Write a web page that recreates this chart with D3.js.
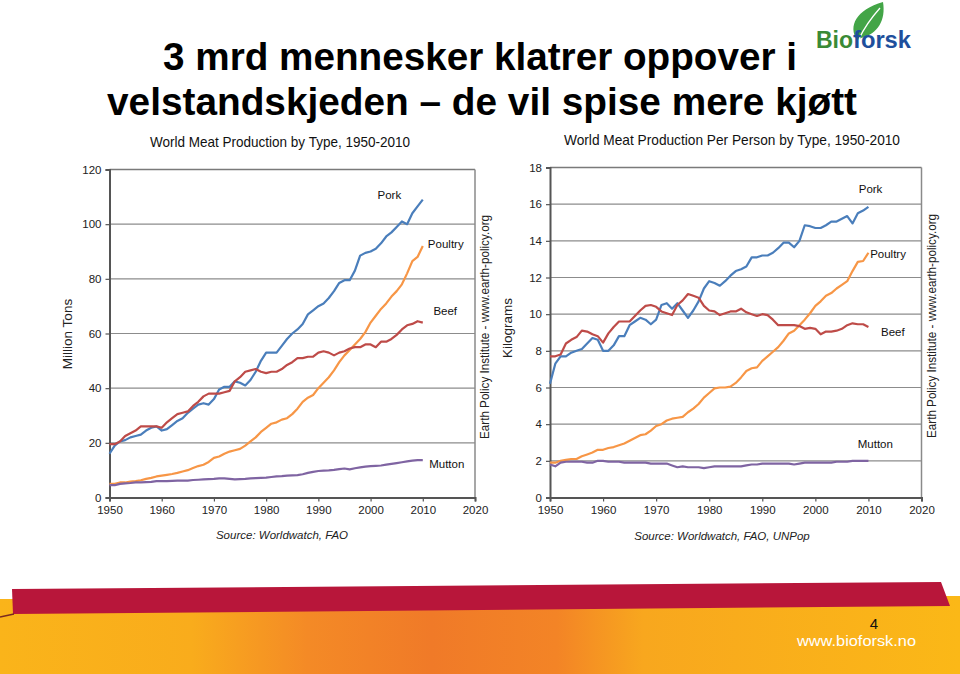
<!DOCTYPE html>
<html><head><meta charset="utf-8">
<script src="https://cdn.jsdelivr.net/npm/d3@7"></script>
<style>
html,body{margin:0;padding:0;background:#fff;}
svg{display:block;}
text{font-family:"Liberation Sans",Arial,sans-serif;}
</style></head>
<body>
<svg id="slide" width="960" height="674"></svg>
<script>
// ---------- DATA ----------
const years = d3.range(1950, 2011);
const seriesNames = ["Pork","Poultry","Beef","Mutton"];

// Left chart: world meat production, million tons
const porkTons = [16,19,20.5,21,22,22.5,23,24.5,25.5,26,24.5,25,26.5,28,29,31,32.5,34,34.5,34,36,39.5,40.5,40.5,42.5,42,41,43,46,50,53,53,53,55.5,58,60,61.5,63.5,67,68.5,70,71,73,75.5,78.5,79.5,79.5,83,88.5,89.5,90,91,93,95.5,97,99,101,100,104,106.5,109];
const poultryTons = [5,5,5.5,5.5,5.8,6,6.3,6.8,7.2,7.7,8,8.3,8.6,9,9.5,10,10.8,11.5,12,13,14.5,15,16,16.8,17.3,17.8,19,20.5,22,24,25.5,27,27.5,28.5,29,30.5,32.5,35,36.5,37.5,40,42,44,46.5,49.5,52,54,56,58,60.5,64,66.5,69,71,73.5,75.5,78,82,86.5,88,92];
const beefTons = [19.5,19.5,20.5,22.5,23.5,24.5,26,26,26,26,25.5,27.5,29,30.5,31,31.5,33.5,35,37,38,38,38,38.5,39,42.5,44,46,46.5,47,46,45.5,46,46,47,48.5,49.5,51,51,51.5,51.5,53,53.5,53,52,53,53.5,54.5,55,55,56,56,55,57,57,58,59.5,61.5,63,63.5,64.5,64];
const muttonTons = [4.5,4.5,5,5.2,5.3,5.5,5.5,5.6,5.7,6,6,6,6.1,6.2,6.2,6.2,6.4,6.5,6.6,6.7,6.8,7,7,6.8,6.6,6.7,6.8,7,7.1,7.2,7.3,7.5,7.7,7.8,8,8.1,8.2,8.5,9,9.4,9.7,9.8,9.9,10.1,10.4,10.6,10.3,10.7,11,11.3,11.5,11.6,11.7,12,12.3,12.6,12.9,13.2,13.5,13.7,13.7];

// Right chart: production per person, kilograms
const porkKg = [6.2,7.3,7.7,7.7,7.9,8.0,8.1,8.4,8.7,8.6,8.0,8.0,8.3,8.8,8.8,9.4,9.6,9.8,9.7,9.45,9.7,10.5,10.6,10.3,10.6,10.2,9.8,10.2,10.7,11.4,11.8,11.7,11.55,11.8,12.1,12.35,12.45,12.6,13.1,13.1,13.2,13.2,13.35,13.6,13.9,13.9,13.65,14.0,14.85,14.8,14.7,14.7,14.85,15.05,15.05,15.2,15.35,14.95,15.5,15.65,15.85];
const poultryKg = [1.9,1.9,2.0,2.05,2.1,2.1,2.25,2.35,2.45,2.6,2.6,2.7,2.75,2.85,2.95,3.1,3.25,3.4,3.45,3.65,3.9,4.0,4.2,4.3,4.35,4.4,4.65,4.85,5.1,5.45,5.7,5.95,6.0,6.0,6.05,6.25,6.55,6.9,7.05,7.1,7.45,7.7,7.95,8.2,8.55,8.95,9.1,9.4,9.7,10.05,10.45,10.7,11.0,11.15,11.4,11.6,11.8,12.35,12.85,12.9,13.35];
const beefKg = [7.7,7.7,7.8,8.4,8.6,8.75,9.1,9.05,8.9,8.8,8.45,8.95,9.3,9.6,9.6,9.6,9.9,10.2,10.45,10.5,10.4,10.15,10.05,9.95,10.5,10.75,11.1,11.0,10.9,10.45,10.2,10.15,9.95,10.05,10.15,10.15,10.3,10.1,10.0,9.9,10.0,9.95,9.7,9.4,9.4,9.4,9.4,9.35,9.2,9.25,9.2,8.9,9.05,9.05,9.1,9.2,9.4,9.5,9.45,9.45,9.3];
const muttonKg = [1.8,1.7,1.9,1.95,1.95,1.95,1.95,1.9,1.9,2.0,2.0,1.95,1.95,1.95,1.9,1.9,1.9,1.9,1.9,1.85,1.85,1.85,1.85,1.75,1.65,1.7,1.65,1.65,1.65,1.6,1.65,1.7,1.7,1.7,1.7,1.7,1.7,1.75,1.8,1.8,1.85,1.85,1.85,1.85,1.85,1.85,1.8,1.85,1.9,1.9,1.9,1.9,1.9,1.9,1.95,1.95,1.95,2.0,2.0,2.0,2.0];

const xTicks = [1950,1960,1970,1980,1990,2000,2010,2020];
const yTicksTons = [0,20,40,60,80,100,120];
const yTicksKg = [0,2,4,6,8,10,12,14,16,18];

// ---------- STYLE ----------
const colors = {Pork:"#4a7ebb", Poultry:"#f79646", Beef:"#be4b48", Mutton:"#7f64a2"};
const svg = d3.select("#slide");

// ---------- SLIDE TITLE ----------
svg.append("text").attr("x",480).attr("y",70).attr("text-anchor","middle")
  .attr("font-size",38).attr("font-weight","bold").attr("fill","#000")
  .attr("textLength",634).attr("lengthAdjust","spacingAndGlyphs")
  .text("3 mrd mennesker klatrer oppover i");
svg.append("text").attr("x",482).attr("y",115).attr("text-anchor","middle")
  .attr("font-size",38).attr("font-weight","bold").attr("fill","#000")
  .attr("textLength",750).attr("lengthAdjust","spacingAndGlyphs")
  .text("velstandskjeden – de vil spise mere kjøtt");

// ---------- LOGO ----------
const logo = svg.append("g");
logo.append("path")
  .attr("d","M857,40 C848,26 856,10 883,2 C886,20 878,34 861,38 Z")
  .attr("fill","#43a547");
logo.append("path")
  .attr("d","M859,39 C864,28 872,17 880,8")
  .attr("fill","none").attr("stroke","#fff").attr("stroke-width",1.3);
logo.append("text").attr("x",816).attr("y",48).attr("font-size",23).attr("font-weight","bold")
  .attr("fill","#3a8a36").text("Bio");
logo.append("text").attr("x",853).attr("y",48).attr("font-size",23).attr("font-weight","bold")
  .attr("fill","#1e4f9c").attr("textLength",58).attr("lengthAdjust","spacingAndGlyphs").text("forsk");

// ---------- FOOTER ----------
const defs = svg.append("defs");
const grad = defs.append("linearGradient").attr("id","og").attr("x1","0").attr("x2","1").attr("y1","0").attr("y2","0");
[[0,"#fab41a"],[0.2,"#f9ac1c"],[0.32,"#f48a26"],[0.45,"#f07a28"],[0.58,"#f38426"],[0.67,"#f8a71e"],[1,"#fbb817"]]
  .forEach(([o,c])=>grad.append("stop").attr("offset",o).attr("stop-color",c));
svg.append("path").attr("d","M0,599 L960,596 L960,674 L0,674 Z").attr("fill","url(#og)");
svg.append("path").attr("d","M12,589 L941,582 L950,606 L13,614 Z").attr("fill","#b8163a");
svg.append("path").attr("d","M0,617 L14,614").attr("stroke","#7a2a20").attr("stroke-width",1.5);
svg.append("text").attr("x",874).attr("y",629).attr("text-anchor","middle").attr("font-size",15)
  .attr("fill","#111").text("4");
svg.append("text").attr("x",797).attr("y",646).attr("font-size",15.5).attr("fill","#fff")
  .attr("textLength",119).attr("lengthAdjust","spacingAndGlyphs").text("www.bioforsk.no");

// ---------- CHART FUNCTION ----------
function drawChart(cfg){
  const g = svg.append("g");
  const x = d3.scaleLinear().domain([1950,2020]).range([cfg.left,cfg.right]);
  const y = d3.scaleLinear().domain([0,cfg.yMax]).range([cfg.bottom,cfg.top]);

  // title
  g.append("text").attr("x",cfg.titleX).attr("y",cfg.titleY).attr("text-anchor","middle")
    .attr("font-size",14.5).attr("fill","#111")
    .attr("textLength",cfg.titleLen).attr("lengthAdjust","spacingAndGlyphs").text(cfg.title);

  // gridlines
  g.append("g").selectAll("line").data(cfg.yTicks.filter(v=>v>0)).join("line")
    .attr("x1",cfg.left).attr("x2",cfg.right).attr("y1",d=>y(d)).attr("y2",d=>y(d))
    .attr("stroke",d=>d===cfg.yMax?"#7a7a7a":"#8c8c8c").attr("stroke-width",d=>d===cfg.yMax?1.5:1.2);
  // right frame
  g.append("line").attr("x1",cfg.right).attr("x2",cfg.right).attr("y1",cfg.top).attr("y2",cfg.bottom)
    .attr("stroke","#8a8a8a").attr("stroke-width",1.5);

  // axes
  const ya = g.append("g").attr("transform",`translate(${cfg.left},0)`)
    .call(d3.axisLeft(y).tickValues(cfg.yTicks).tickSize(4).tickPadding(4));
  const xa = g.append("g").attr("transform",`translate(0,${cfg.bottom})`)
    .call(d3.axisBottom(x).tickValues(xTicks).tickFormat(d3.format("d")).tickSize(4).tickPadding(4));
  [ya,xa].forEach(a=>{
    a.select(".domain").attr("stroke","#555").attr("stroke-width",2);
    a.selectAll(".tick line").attr("stroke","#555").attr("stroke-width",1.2);
    a.selectAll(".tick text").attr("font-size",11.5).attr("fill","#222")
      .attr("font-family",'"Liberation Sans",Arial,sans-serif');
  });

  // y label
  g.append("text").attr("transform",`translate(${cfg.yLabelX},${cfg.yLabelY}) rotate(-90)`)
    .attr("text-anchor","middle").attr("font-size",13.5).attr("fill","#222").text(cfg.yLabel);

  // right credit
  g.append("text").attr("transform",`translate(${cfg.creditX},${cfg.creditY}) rotate(-90)`)
    .attr("text-anchor","middle").attr("font-size",12.5).attr("fill","#222")
    .attr("textLength",224).attr("lengthAdjust","spacingAndGlyphs")
    .text("Earth Policy Institute - www.earth-policy.org");

  // source
  g.append("text").attr("x",cfg.sourceX).attr("y",cfg.sourceY).attr("text-anchor","middle")
    .attr("font-size",11.5).attr("font-style","italic").attr("fill","#222").text(cfg.source);

  // lines
  const line = d3.line().x((d,i)=>x(years[i])).y(d=>y(d));
  cfg.series.forEach(s=>{
    g.append("path").datum(s.values).attr("d",line).attr("fill","none")
      .attr("stroke",colors[s.name]).attr("stroke-width",2.2).attr("stroke-linejoin","round");
  });
  // series labels
  cfg.series.forEach(s=>{
    g.append("text").attr("x",x(s.label[0])).attr("y",y(s.label[1])).attr("dy","0.35em")
      .attr("text-anchor","middle").attr("font-size",11.5).attr("fill","#111").text(s.name);
  });
}

drawChart({
  left:109.5, right:475, top:169.5, bottom:497.5, yMax:120, yTicks:yTicksTons,
  title:"World Meat Production by Type, 1950-2010", titleX:280, titleY:147, titleLen:260,
  yLabel:"Million Tons", yLabelX:72, yLabelY:334,
  creditX:489, creditY:327, source:"Source: Worldwatch, FAO", sourceX:282, sourceY:539,
  series:[
    {name:"Pork", values:porkTons, label:[2003.6,110.6]},
    {name:"Poultry", values:poultryTons, label:[2014.4,92.7]},
    {name:"Beef", values:beefTons, label:[2014.3,68.2]},
    {name:"Mutton", values:muttonTons, label:[2014.6,12.2]}
  ]
});

drawChart({
  left:550, right:921.5, top:167.5, bottom:497.5, yMax:18, yTicks:yTicksKg,
  title:"World Meat Production Per Person by Type, 1950-2010", titleX:732, titleY:145, titleLen:336,
  yLabel:"Kilograms", yLabelX:512, yLabelY:328,
  creditX:936, creditY:326, source:"Source: Worldwatch, FAO, UNPop", sourceX:722, sourceY:540,
  series:[
    {name:"Pork", values:porkKg, label:[2010.4,16.85]},
    {name:"Poultry", values:poultryKg, label:[2013.7,13.3]},
    {name:"Beef", values:beefKg, label:[2014.6,9.05]},
    {name:"Mutton", values:muttonKg, label:[2011.3,2.93]}
  ]
});
</script>
</body></html>
